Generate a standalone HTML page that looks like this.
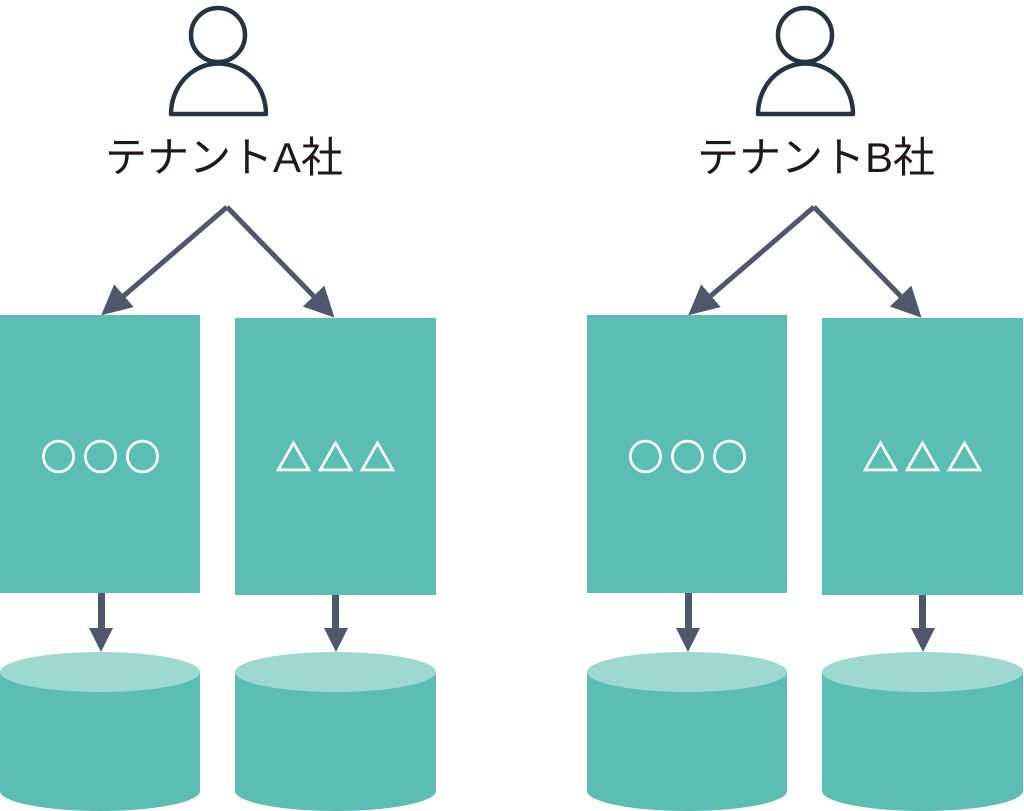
<!DOCTYPE html>
<html><head><meta charset="utf-8"><style>html,body{margin:0;padding:0;background:#fff}svg{display:block}</style></head>
<body>
<svg width="1024" height="811" viewBox="0 0 1024 811" xmlns="http://www.w3.org/2000/svg">
<defs>
<marker id="ah" markerWidth="6" markerHeight="6" refX="5" refY="3" orient="auto" markerUnits="strokeWidth">
<path d="M0,0 L6,3 L0,6 z" fill="#4f586b"/></marker>
<g id="grp">
 <circle cx="218" cy="35" r="27" fill="none" stroke="#263341" stroke-width="4.5"/>
 <path d="M171,114 A47,50 0 0 1 266,114 Z" fill="none" stroke="#263341" stroke-width="4.5" stroke-linejoin="round"/>
 <line x1="227" y1="207" x2="105" y2="312" stroke="#4f586b" stroke-width="5" marker-end="url(#ah)"/>
 <line x1="227" y1="207" x2="331" y2="314" stroke="#4f586b" stroke-width="5" marker-end="url(#ah)"/>
 <rect x="0" y="315" width="200" height="278" fill="#5bbdb3"/>
 <rect x="235" y="318" width="201" height="277" fill="#5bbdb3"/>
 <rect x="98" y="593" width="7" height="36" fill="#4f586b"/>
 <path d="M89,628 L113,628 L101,652 Z" fill="#4f586b"/>
 <rect x="332" y="595" width="7" height="34" fill="#4f586b"/>
 <path d="M324,628 L348,628 L336,652 Z" fill="#4f586b"/>
 <path d="M0,672 L0,791 A100,20 0 0 0 200,791 L200,672 Z" fill="#5bbdb3"/>
 <ellipse cx="100" cy="672" rx="100" ry="20" fill="#9dd8d1"/>
 <path d="M235,672 L235,791 A100.5,20 0 0 0 436,791 L436,672 Z" fill="#5bbdb3"/>
 <ellipse cx="335.5" cy="672" rx="100.5" ry="20" fill="#9dd8d1"/>
 <g font-size="35" fill="#fff" stroke="#fff" stroke-width="1.4" font-family="Noto Sans CJK JP, sans-serif" text-anchor="middle">
  <text x="104" y="470" letter-spacing="7">○○○</text>
  <text x="339" y="471" letter-spacing="7">△△△</text>
 </g>
</g>
</defs>
<use href="#grp"/>
<use href="#grp" transform="translate(587,0)"/>
<text x="224" y="172" font-size="42" fill="#231815" text-anchor="middle" font-family="Liberation Sans, Noto Sans CJK JP, sans-serif">テナントA社</text>
<text x="816" y="172" font-size="42" fill="#231815" text-anchor="middle" font-family="Liberation Sans, Noto Sans CJK JP, sans-serif">テナントB社</text>
</svg>
</body></html>
